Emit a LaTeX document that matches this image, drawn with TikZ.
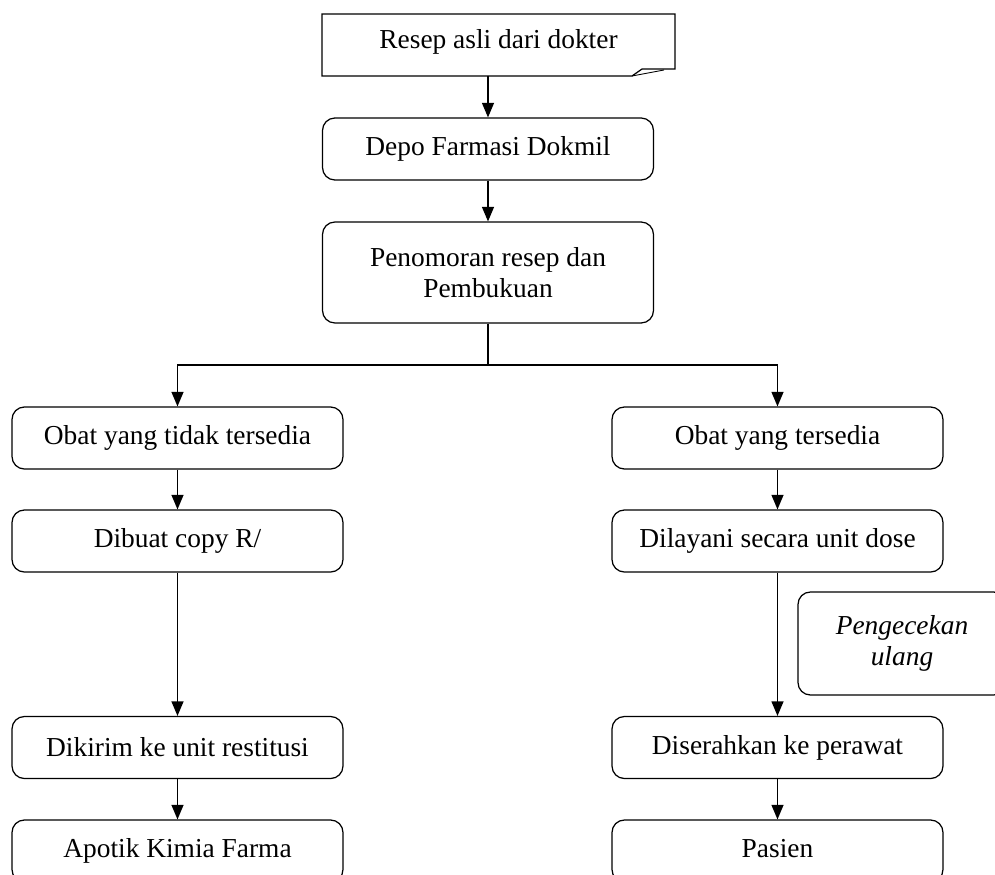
\documentclass[tikz,border=0pt]{standalone}
\usepackage{fontspec}
\setmainfont{Liberation Serif}
\usetikzlibrary{arrows}

\begin{document}
\begin{tikzpicture}[x=0.02cm, y=-0.02cm,
  box/.style={draw, rounded corners=7pt, line width=0.7pt, align=center, inner sep=0pt, minimum width=6.62cm, minimum height=1.24cm},
  flow/.style={line width=0.9pt, -triangle 45}]

\fontsize{15.6}{17.6}\selectfont

\useasboundingbox (0,0) rectangle (995,875);
\clip (0,0) rectangle (995,875);

% Resep (document shape)
\node (resep) at (498.5,42) [inner sep=0pt, minimum width=7.06cm, minimum height=1.24cm] {Resep asli dari dokter};
\draw [line width=0.7pt] (322,76)--(322,14)--(675,14)--(675,69)--(642,69)--(632,76)--cycle;
\draw [line width=0.5pt] (632,76)--(664,70);

\node (depo) at (488,149) [box] {Depo Farmasi Dokmil};
\node (nomor) at (488,272.5) [box, minimum height=2.02cm] {Penomoran resep dan\\Pembukuan};

% kiri
\node (tidak) at (177.5,438) [box] {Obat yang tidak tersedia};
\node (copy) at (177.5,541) [box] {Dibuat copy R/};
\node (kirim) at (177.5,747.5) [box] {Dikirim ke unit restitusi};
\node (apotik) at (177.5,851) [box] {Apotik Kimia Farma};

% kanan
\node (sedia) at (777.5,438) [box] {Obat yang tersedia};
\node (unit) at (777.5,541) [box] {Dilayani secara unit dose};
\node (serah) at (777.5,747.5) [box] {Diserahkan ke perawat};
\node (pasien) at (777.5,851) [box] {\raisebox{3pt}{Pasien}};

\node (cek) at (902,643.5) [box, minimum width=4.16cm, minimum height=2.06cm] {\itshape Pengecekan\\\itshape ulang};

\draw [flow] (depo.north |- 0,76)--(depo.north);
\draw [flow] (depo.south)--(nomor.north);

\coordinate (cabang) at (488,365);
\draw [line width=0.9pt] (nomor.south)--(cabang);
\draw [flow] (cabang)-|(tidak.north);
\draw [flow] (cabang)-|(sedia.north);

\draw [flow] (tidak)--(copy);
\draw [flow] (copy)--(kirim);
\draw [flow] (kirim)--(apotik);

\draw [flow] (sedia)--(unit);
\draw [flow] (unit)--(serah);
\draw [flow] (serah)--(pasien);

\end{tikzpicture}
\end{document}
